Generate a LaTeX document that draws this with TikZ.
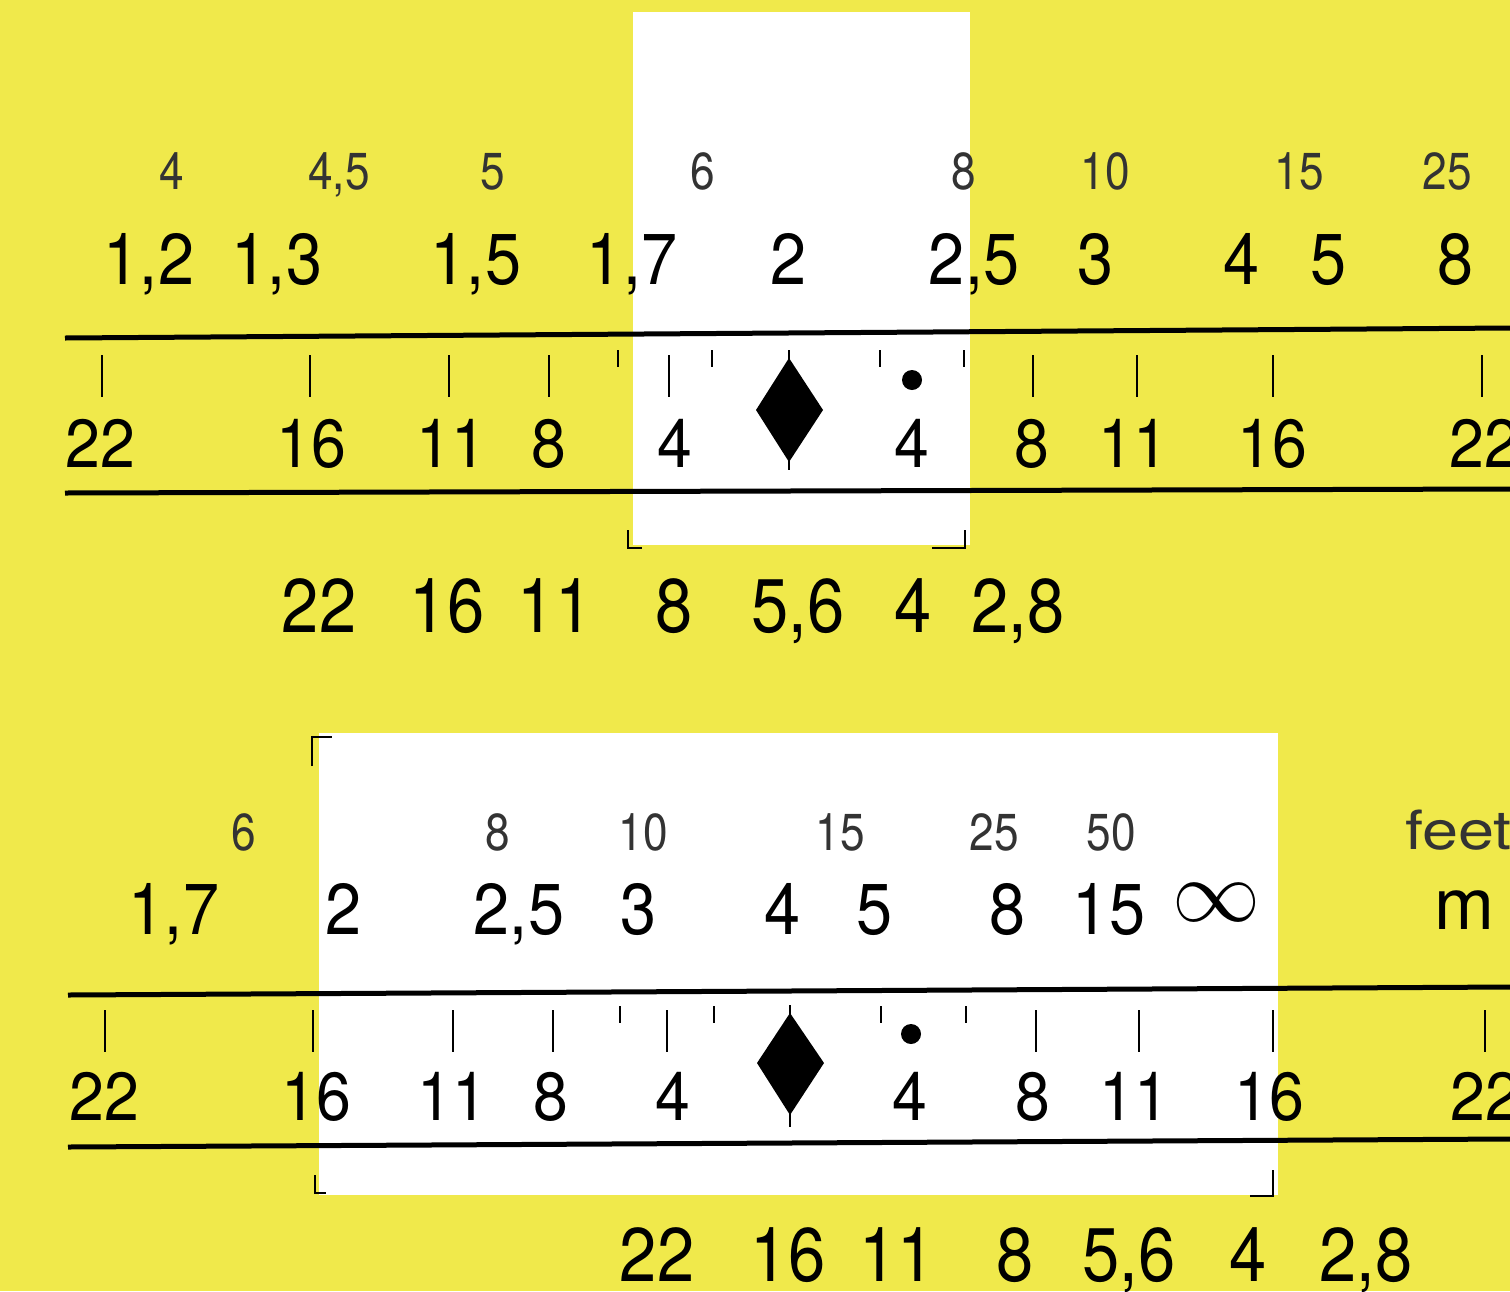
\documentclass[tikz,border=0pt]{standalone}
\usepackage{fontspec}
\setmainfont{TeX Gyre Heros}
\definecolor{bgy}{RGB}{240,233,75}
\newcommand\cnd[2]{\scalebox{#1}[1]{#2}}
\begin{document}
\begin{tikzpicture}[x=1pt,y=-1pt,
  sm/.style={inner sep=0pt, anchor=base, font=\fontsize{52}{52}\selectfont, text=black!80},
  bg/.style={inner sep=0pt, anchor=base, font=\fontsize{72}{72}\selectfont},
  md/.style={inner sep=0pt, anchor=base, font=\fontsize{68}{68}\selectfont},
  bt/.style={inner sep=0pt, anchor=base, font=\fontsize{76}{76}\selectfont},
  rulel/.style={line width=5pt},
  longtick/.style={line width=2.5pt},
  shorttick/.style={line width=2pt},
  cornermark/.style={line width=2pt}]
\useasboundingbox (0,0) rectangle (1510,1291);
\clip (0,0) rectangle (1510,1291);
\fill[bgy] (0,0) rectangle (1510,1291);
% white windows
\fill[white] (633,12) rectangle (970,545);
\fill[white] (319,733) rectangle (1278,1195);
% corner marks
\draw[cornermark] (628,530) -- (628,548) -- (642,548);
\draw[cornermark] (932,548) -- (965,548) -- (965,530);
\draw[cornermark] (312,766) -- (312,737) -- (332,737);
\draw[cornermark] (315,1175) -- (315,1193) -- (326,1193);
\draw[cornermark] (1250,1196) -- (1273,1196) -- (1273,1170);

% ===== top panel =====
\draw[rulel] (65,338) -- (1510,328);
\draw[rulel] (65,493) -- (1510,489);
\foreach \x in {102,310,449,549,669,1033,1137,1273,1482}
  \draw[longtick] (\x,355) -- (\x,397);
\foreach \x in {618,712,880,964}
  \draw[shorttick] (\x,350) -- (\x,367);
\draw[shorttick] (789,350) -- (789,470);
\fill (789,358) -- (823,410) -- (789,462) -- (756,410) -- cycle;
\fill (912,380) circle (10);

\foreach \x/\t [count=\i] in {172/4,339/{4,5},493/5,703/6,964/8,1105/10,1299/15,1447/25}
  \node[sm] (ts\i) at (\x,189) {\cnd{0.85}{\t}};
\foreach \x/\t [count=\i] in {149/{1,2},277/{1,3},476/{1,5},632/{1,7},789/2,974/{2,5},1096/3,1241/4,1328/5,1455/8}
  \node[bg] (tb\i) at (\x,284) {\cnd{0.9}{\t}};
\foreach \x/\t [count=\i] in {100/22,311/16,451/11,549/8,675/4,912/4,1032/8,1133/11,1272/16,1484/22}
  \node[md] (tm\i) at (\x,467) {\cnd{0.92}{\t}};
\foreach \x/\t [count=\i] in {319/22,447/16,555/11,674/8,798/{5,6},913/4,1018/{2,8}}
  \node[bt] (tf\i) at (\x,632) {\cnd{0.88}{\t}};

% ===== bottom panel =====
\draw[rulel] (68,995) -- (1510,987);
\draw[rulel] (68,1147) -- (1510,1139);
\foreach \x in {105,313,453,553,667,1036,1139,1273,1485}
  \draw[longtick] (\x,1010) -- (\x,1052);
\foreach \x in {620,714,881,966}
  \draw[shorttick] (\x,1006) -- (\x,1023);
\draw[shorttick] (790,1005) -- (790,1127);
\fill (790,1013) -- (824,1063) -- (790,1115) -- (757,1063) -- cycle;
\fill (911,1034) circle (10);

\foreach \x/\t [count=\i] in {244/6,498/8,643/10,840/15,994/25,1111/50}
  \node[sm] (bs\i) at (\x,850) {\cnd{0.85}{\t}};
\node[sm, anchor=base west, font=\fontsize{54}{54}\selectfont] (feet) at (1405,849) {\cnd{1.2}{feet}};
\foreach \x/\t [count=\i] in {174/{1,7},344/2,519/{2,5},639/3,783/4,875/5,1008/8,1109/15}
  \node[bg] (bb\i) at (\x,934) {\cnd{0.9}{\t}};
\node[inner sep=0pt] (inf) at (1216,903) {\resizebox{88pt}{!}{$\infty$}};
\node[bg] (m) at (1464,929) {m};
\foreach \x/\t [count=\i] in {104/22,316/16,452/11,551/8,673/4,910/4,1033/8,1134/11,1269/16,1485/22}
  \node[md] (bm\i) at (\x,1120) {\cnd{0.92}{\t}};
\foreach \x/\t [count=\i] in {657/22,788/16,897/11,1015/8,1129/{5,6},1248/4,1366/{2,8}}
  \node[bt] (bf\i) at (\x,1281) {\cnd{0.88}{\t}};
\end{tikzpicture}
\end{document}
